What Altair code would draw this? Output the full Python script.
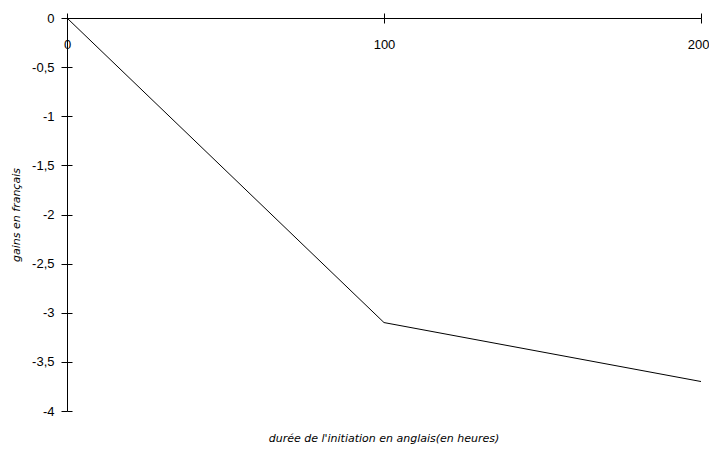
import altair as alt
import pandas as pd

hours = [0, 100, 200]
gains = [0, -3.1, -3.7]
x_ticks = [0, 100, 200]
y_ticks = [0, -0.5, -1, -1.5, -2, -2.5, -3, -3.5, -4]

df = pd.DataFrame({"hours": hours, "gains": gains})

FONT = "Liberation Sans"
TFONT = "DejaVu Sans"
W, H = 634, 393

xs = alt.Scale(domain=[0, 200], nice=False, zero=False)
ys = alt.Scale(domain=[-4, 0], nice=False, zero=False)

label_expr = "replace(toString(datum.value), '.', ',')"

line = alt.Chart(df).mark_line(color="black", strokeWidth=1).encode(
    x=alt.X("hours:Q", scale=xs,
            axis=alt.Axis(orient="bottom", offset=-H, values=x_ticks, tickSize=5,
                          labelPadding=15, title=None, grid=False,
                          labelFlush=False, labelOverlap=False,
                          labelAlign={"condition": {"test": "datum.value == 200", "value": "right"},
                                      "value": "center"},
                          labelOffset={"condition": {"test": "datum.value == 200", "value": 8},
                                       "value": 0},
                          domainColor="black", tickColor="black",
                          labelFont=FONT, labelFontSize=13, labelColor="black")),
    y=alt.Y("gains:Q", scale=ys,
            axis=alt.Axis(orient="left", values=y_ticks, tickSize=6, labelPadding=7,
                          title="gains en français", titlePadding=10, grid=False,
                          labelExpr=label_expr, labelFlush=False, labelOverlap=False,
                          domainColor="black", tickColor="black",
                          labelFont=FONT, labelFontSize=13, labelColor="black",
                          titleFont=TFONT, titleFontSize=11, titleFontWeight="normal",
                          titleFontStyle="italic", titleColor="black")),
)

ticks2 = alt.Chart(df).mark_line(opacity=0).encode(
    x=alt.X("hours:Q", scale=xs,
            axis=alt.Axis(orient="top", values=x_ticks, tickSize=5, labels=False,
                          domain=False, grid=False, title=None, tickColor="black")),
    y=alt.Y("gains:Q", scale=ys,
            axis=alt.Axis(orient="right", offset=-W, values=y_ticks, tickSize=5,
                          labels=False, domain=False, grid=False, title=None,
                          tickColor="black")),
)

chart = alt.layer(line, ticks2).resolve_axis(
    x="independent", y="independent"
).properties(
    width=W, height=H,
    background="white",
    autosize=alt.AutoSizeParams(type="none"),
    padding={"left": 59, "top": 10, "right": 8, "bottom": 35},
    title=alt.TitleParams(
        text="durée de l'initiation en anglais(en heures)",
        orient="bottom", anchor="middle", font=TFONT, fontSize=11,
        fontStyle="italic", fontWeight="normal", color="black", offset=15,
    ),
).configure_view(strokeWidth=0, stroke="transparent")

chart.save("out.html", embed_options={"renderer": "svg", "actions": False})
